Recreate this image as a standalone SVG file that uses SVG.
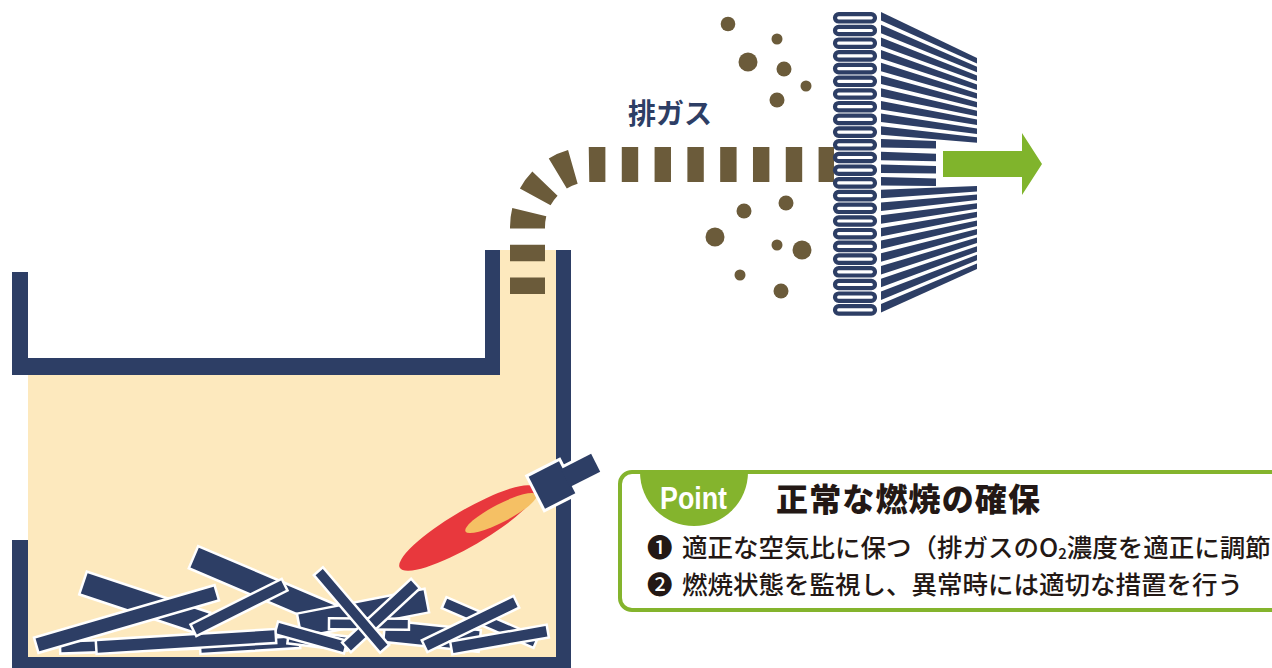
<svg xmlns="http://www.w3.org/2000/svg" width="1272" height="668" viewBox="0 0 1272 668">
  <style>
    .navy { fill: #2d3e65; }
    .beige { fill: #fde9be; }
    .brown { fill: #6b5b3a; }
    .plank { fill: #2d3e65; stroke: #ffffff; stroke-width: 2.5; }
    .slat { fill: #2d3e65; }
    .pleat { fill: #ffffff; stroke: #2d3e65; stroke-width: 4.2; }
    .jp { font-family: "Noto Sans CJK JP", "Noto Sans", sans-serif; }
    .body { font-size: 25.5px; font-weight: 500; fill: #231815; }
  </style>

  <!-- furnace shell -->
  <g id="furnace">
    <rect class="beige" x="28" y="375" width="528" height="282"/>
    <rect class="beige" x="500" y="250" width="56" height="125"/>
    <path class="navy" d="M12 272 H28 V358 H485 V250 H500 V375 H12 Z"/>
    <rect class="navy" x="556" y="250" width="15" height="418"/>
    <path class="navy" d="M12 540 H28 V657 H556 V668 H12 Z"/>
  </g>

  <!-- exhaust gas stream -->
  <g id="connectors">
    <path d="M527.5 294 V227 A62.5 62.5 0 0 1 590 164.5 H834" fill="none" stroke="#6b5b3a" stroke-width="35" stroke-dasharray="16.4 16.4"/>
  </g>

  <g id="label-exhaust">
    <text class="jp" x="628" y="124" font-size="28" font-weight="700" fill="#2d3e65">排ガス</text>
  </g>

  <!-- dust particles -->
  <g id="particles" class="brown">
    <circle cx="728" cy="24" r="7.3"/>
    <circle cx="777" cy="39" r="5.5"/>
    <circle cx="748" cy="62" r="9.5"/>
    <circle cx="784" cy="69" r="7.5"/>
    <circle cx="806" cy="86" r="5.5"/>
    <circle cx="777" cy="100" r="7.5"/>
    <circle cx="744" cy="211" r="7.5"/>
    <circle cx="786" cy="203" r="7.5"/>
    <circle cx="715" cy="237" r="9.5"/>
    <circle cx="777" cy="245" r="5.5"/>
    <circle cx="802" cy="250" r="9.5"/>
    <circle cx="740" cy="275" r="5.5"/>
    <circle cx="781" cy="291" r="7.5"/>
  </g>

  <!-- pleated filter -->
  <g id="filter">
    <g id="pleats">
      <rect class="pleat" x="835" y="14.1" width="40" height="7.4" rx="3.7"/>
      <rect class="pleat" x="835" y="26.8" width="40" height="7.4" rx="3.7"/>
      <rect class="pleat" x="835" y="39.5" width="40" height="7.4" rx="3.7"/>
      <rect class="pleat" x="835" y="52.2" width="40" height="7.4" rx="3.7"/>
      <rect class="pleat" x="835" y="64.9" width="40" height="7.4" rx="3.7"/>
      <rect class="pleat" x="835" y="77.6" width="40" height="7.4" rx="3.7"/>
      <rect class="pleat" x="835" y="90.3" width="40" height="7.4" rx="3.7"/>
      <rect class="pleat" x="835" y="103.0" width="40" height="7.4" rx="3.7"/>
      <rect class="pleat" x="835" y="115.7" width="40" height="7.4" rx="3.7"/>
      <rect class="pleat" x="835" y="128.4" width="40" height="7.4" rx="3.7"/>
      <rect class="pleat" x="835" y="141.1" width="40" height="7.4" rx="3.7"/>
      <rect class="pleat" x="835" y="153.8" width="40" height="7.4" rx="3.7"/>
      <rect class="pleat" x="835" y="166.5" width="40" height="7.4" rx="3.7"/>
      <rect class="pleat" x="835" y="179.2" width="40" height="7.4" rx="3.7"/>
      <rect class="pleat" x="835" y="191.9" width="40" height="7.4" rx="3.7"/>
      <rect class="pleat" x="835" y="204.6" width="40" height="7.4" rx="3.7"/>
      <rect class="pleat" x="835" y="217.3" width="40" height="7.4" rx="3.7"/>
      <rect class="pleat" x="835" y="230.0" width="40" height="7.4" rx="3.7"/>
      <rect class="pleat" x="835" y="242.7" width="40" height="7.4" rx="3.7"/>
      <rect class="pleat" x="835" y="255.4" width="40" height="7.4" rx="3.7"/>
      <rect class="pleat" x="835" y="268.1" width="40" height="7.4" rx="3.7"/>
      <rect class="pleat" x="835" y="280.8" width="40" height="7.4" rx="3.7"/>
      <rect class="pleat" x="835" y="293.5" width="40" height="7.4" rx="3.7"/>
      <rect class="pleat" x="835" y="306.2" width="40" height="7.4" rx="3.7"/>
    </g>
    <g id="louvers">
      <!-- upper fan -->
      <polygon class="slat" points="881,12 977,58 977,63.5 881,20.5"/>
      <polygon class="slat" points="881,24.7 977,66.8 977,72.3 881,33.2"/>
      <polygon class="slat" points="881,37.4 977,75.6 977,81.1 881,45.9"/>
      <polygon class="slat" points="881,50.1 977,84.4 977,89.9 881,58.6"/>
      <polygon class="slat" points="881,62.8 977,93.2 977,98.7 881,71.3"/>
      <polygon class="slat" points="881,75.5 977,102 977,107.5 881,84"/>
      <polygon class="slat" points="881,88.2 977,110.8 977,116.3 881,96.7"/>
      <polygon class="slat" points="881,100.9 977,119.6 977,125.1 881,109.4"/>
      <polygon class="slat" points="881,113.6 977,128.4 977,133.9 881,122.1"/>
      <polygon class="slat" points="881,126.3 977,137.2 977,142.7 881,134.8"/>
      <!-- short middle slats -->
      <polygon class="slat" points="881,139 936,141 936,148.5 881,147.5"/>
      <polygon class="slat" points="881,151.7 936,153.7 936,161.2 881,160.2"/>
      <polygon class="slat" points="881,164.4 936,166 936,173.5 881,172.9"/>
      <polygon class="slat" points="881,177.1 936,178.5 936,186 881,185.6"/>
      <!-- lower fan -->
      <polygon class="slat" points="881,189.8 977,186 977,191.5 881,198.3"/>
      <polygon class="slat" points="881,202.5 977,194.6 977,200.1 881,211"/>
      <polygon class="slat" points="881,215.2 977,203.2 977,208.7 881,223.7"/>
      <polygon class="slat" points="881,227.9 977,211.8 977,217.3 881,236.4"/>
      <polygon class="slat" points="881,240.6 977,220.4 977,225.9 881,249.1"/>
      <polygon class="slat" points="881,253.3 977,229 977,234.5 881,261.8"/>
      <polygon class="slat" points="881,266 977,237.6 977,243.1 881,274.5"/>
      <polygon class="slat" points="881,278.7 977,246.2 977,251.7 881,287.2"/>
      <polygon class="slat" points="881,291.4 977,254.8 977,260.3 881,299.9"/>
      <polygon class="slat" points="881,304.1 977,263.4 977,268.9 881,312.6"/>
    </g>
  </g>

  <!-- clean-air outlet arrow -->
  <g id="outlet-arrow">
    <polygon points="943,151 1022,151 1022,133 1042,164 1022,195 1022,177 943,177" fill="#80b42c"/>
  </g>

  <!-- flame -->
  <g id="flame">
    <ellipse cx="468" cy="528" rx="79" ry="18" transform="rotate(-30.3 468 528)" fill="#e8383d"/>
    <ellipse cx="501" cy="513" rx="40" ry="9" transform="rotate(-27.4 501 513)" fill="#f5c064"/>
  </g>

  <!-- burner -->
  <g id="burner" transform="translate(552 485) rotate(-27)">
    <rect x="-17" y="-18" width="34" height="36" fill="#ffffff" stroke="#ffffff" stroke-width="6"/>
    <rect x="15" y="-10" width="34" height="20" fill="#ffffff" stroke="#ffffff" stroke-width="6"/>
    <rect class="navy" x="-17" y="-18" width="34" height="36"/>
    <rect class="navy" x="15" y="-10" width="34" height="20"/>
  </g>

  <!-- firewood -->
  <g id="woodpile">
    <rect class="plank" x="-65" y="-12" width="130" height="24" transform="translate(144.7 603.5) rotate(18.4)"/>
    <rect class="plank" x="-75" y="-12" width="150" height="24" transform="translate(262.5 586.5) rotate(23)"/>
    <rect class="plank" x="-65" y="-12" width="130" height="24" transform="translate(363 613) rotate(-11)"/>
    <rect class="plank" x="-75" y="-6" width="150" height="12" transform="translate(135 645) rotate(-2)"/>
    <rect class="plank" x="-50" y="-6" width="100" height="12" transform="translate(250 645) rotate(-3.4)"/>
    <rect class="plank" x="-48" y="-11" width="96" height="22" transform="translate(432 636) rotate(6)"/>
    <rect class="plank" x="-30" y="-7" width="60" height="14" transform="translate(318 640) rotate(7)"/>
    <rect class="plank" x="-50" y="-6" width="100" height="12" transform="translate(490 622.5) rotate(23.4)"/>
    <rect class="plank" x="-94" y="-8" width="188" height="16" transform="translate(126.5 619) rotate(-16.2)"/>
    <rect class="plank" x="-36" y="-6.5" width="72" height="13" transform="translate(311 637.5) rotate(15.6)"/>
    <rect class="plank" x="-90" y="-7" width="180" height="14" transform="translate(186 641.5) rotate(-3.5)"/>
    <rect class="plank" x="-51" y="-6.5" width="102" height="13" transform="translate(239 607.5) rotate(-26.6)"/>
    <rect class="plank" x="-40" y="-5.5" width="80" height="11" transform="translate(369 624) rotate(0.5)"/>
    <rect class="plank" x="-47" y="-6.5" width="94" height="13" transform="translate(381 615.5) rotate(-42.8)"/>
    <rect class="plank" x="-51" y="-6" width="102" height="12" transform="translate(351.5 610) rotate(49.5)"/>
    <rect class="plank" x="-51" y="-6.5" width="102" height="13" transform="translate(470.5 624) rotate(-25.8)"/>
    <rect class="plank" x="-49" y="-6.5" width="98" height="13" transform="translate(499.5 639.5) rotate(-10)"/>
  </g>

  <!-- key point panel -->
  <g id="point-box">
    <rect x="620" y="472" width="700" height="138" rx="12" fill="#ffffff" stroke="#84b42d" stroke-width="4"/>
    <path d="M640 472 A54 54 0 0 0 748 472 Z" fill="#84b42d"/>
    <text x="660" y="509" font-family="Liberation Sans, Arial, sans-serif" font-size="32" font-weight="700" fill="#ffffff" textLength="67" lengthAdjust="spacingAndGlyphs">Point</text>
    <text class="jp" x="776" y="511" font-size="32" font-weight="900" fill="#231815" textLength="264" lengthAdjust="spacing">正常な燃焼の確保</text>
    <text class="jp body" y="557"><tspan x="647">❶</tspan><tspan x="682">適正な空気比に保つ（排ガスのO</tspan><tspan font-size="15" dy="2">2</tspan><tspan dy="-2">濃度を適正に調節</tspan></text>
    <text class="jp body" y="593.5"><tspan x="647">❷</tspan><tspan x="682">燃焼状態を監視し、異常時には適切な措置を行う</tspan></text>
  </g>
</svg>
